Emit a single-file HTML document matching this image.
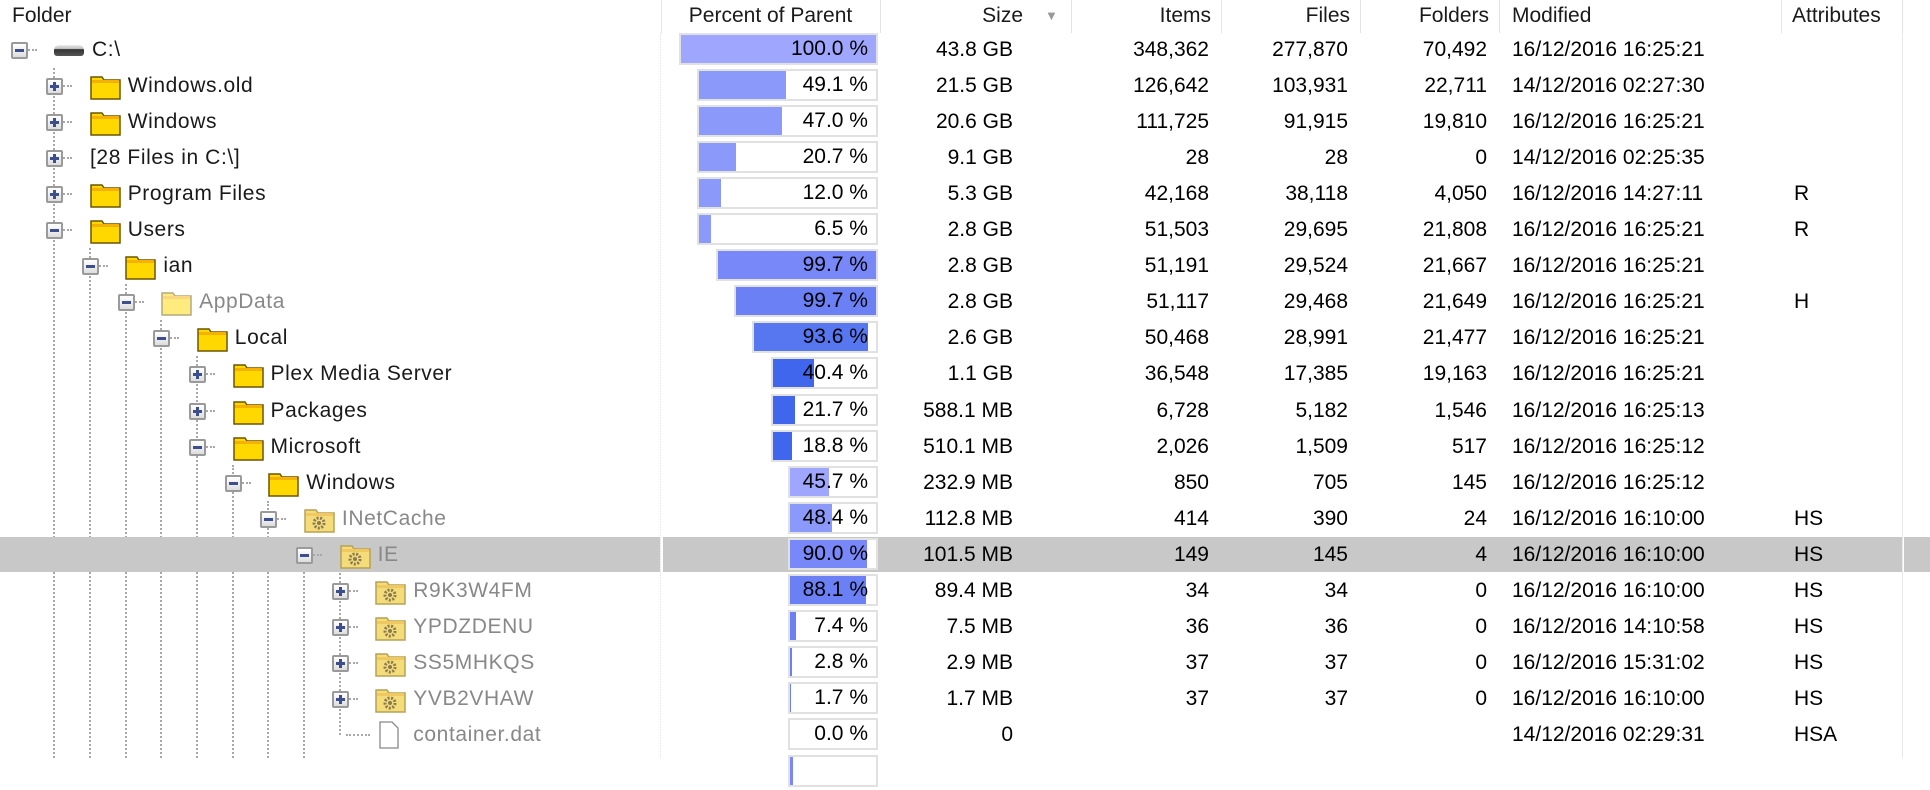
<!DOCTYPE html>
<html><head><meta charset="utf-8">
<style>
html,body{margin:0;padding:0;background:#fff;}
body{width:1930px;height:758px;overflow:hidden;position:relative;font-family:"Liberation Sans",sans-serif;font-size:21px;color:#000;}
.abs{position:absolute;}
.hdr{position:absolute;top:0;height:33px;line-height:32px;font-size:21px;color:#1a1a1a;}
.sep{position:absolute;top:0;width:1px;height:33px;background:#e3e3e3;}
.cell{position:absolute;height:36px;line-height:36px;white-space:nowrap;}
.vl{position:absolute;width:0;border-left:2px dotted #a8a8a8;}
.hl{position:absolute;height:0;border-top:2px dotted #a8a8a8;}
.exp{position:absolute;width:13px;height:13px;border:2px solid #9a9a9a;border-radius:2px;background:linear-gradient(#fff,#ddd);}
.exp i{position:absolute;left:2px;top:5px;width:9px;height:3px;background:#3b4f8c;}
.exp b{position:absolute;left:5px;top:2px;width:3px;height:9px;background:#3b4f8c;}
.box{position:absolute;height:28px;border:2px solid #e1e1e1;background:#fff;}
.fill{position:absolute;left:0;top:0;height:28px;}
.pt{position:absolute;right:8px;top:0;line-height:28px;}
</style></head>
<body>
<div id="hdr">
<div class="hdr" style="left:12px">Folder</div>
<div class="sep" style="left:661px"></div>
<div class="hdr" style="left:661px;width:219px;text-align:center">Percent of Parent</div>
<div class="sep" style="left:880px"></div>
<div class="hdr" style="left:880px;width:143px;text-align:right">Size</div>
<div class="abs" style="left:1045px;top:8px;font-size:13px;color:#999">▼</div>
<div class="sep" style="left:1071px"></div>
<div class="hdr" style="left:1071px;width:140px;text-align:right">Items</div>
<div class="sep" style="left:1221px"></div>
<div class="hdr" style="left:1221px;width:129px;text-align:right">Files</div>
<div class="sep" style="left:1360px"></div>
<div class="hdr" style="left:1360px;width:129px;text-align:right">Folders</div>
<div class="sep" style="left:1499px"></div>
<div class="hdr" style="left:1512px">Modified</div>
<div class="sep" style="left:1781px"></div>
<div class="hdr" style="left:1792px">Attributes</div>
<div class="sep" style="left:1902px"></div>
</div>
<div id="body"></div>
<script>
const names=["C:\\","Windows.old","Windows","[28 Files in C:\\]","Program Files","Users","ian","AppData","Local","Plex Media Server","Packages","Microsoft","Windows","INetCache","IE","R9K3W4FM","YPDZDENU","SS5MHKQS","YVB2VHAW","container.dat",""];
const depths=[0,1,1,1,1,1,2,3,4,5,5,5,6,7,8,9,9,9,9,9,8];
const percents=[100.0,49.1,47.0,20.7,12.0,6.5,99.7,99.7,93.6,40.4,21.7,18.8,45.7,48.4,90.0,88.1,7.4,2.8,1.7,0.0,3.0];
const sizes=["43.8 GB","21.5 GB","20.6 GB","9.1 GB","5.3 GB","2.8 GB","2.8 GB","2.8 GB","2.6 GB","1.1 GB","588.1 MB","510.1 MB","232.9 MB","112.8 MB","101.5 MB","89.4 MB","7.5 MB","2.9 MB","1.7 MB","0",""];
const items=["348,362","126,642","111,725","28","42,168","51,503","51,191","51,117","50,468","36,548","6,728","2,026","850","414","149","34","36","37","37","",""];
const files=["277,870","103,931","91,915","28","38,118","29,695","29,524","29,468","28,991","17,385","5,182","1,509","705","390","145","34","36","37","37","",""];
const folders=["70,492","22,711","19,810","0","4,050","21,808","21,667","21,649","21,477","19,163","1,546","517","145","24","4","0","0","0","0","",""];
const modified=["16/12/2016 16:25:21","14/12/2016 02:27:30","16/12/2016 16:25:21","14/12/2016 02:25:35","16/12/2016 14:27:11","16/12/2016 16:25:21","16/12/2016 16:25:21","16/12/2016 16:25:21","16/12/2016 16:25:21","16/12/2016 16:25:21","16/12/2016 16:25:13","16/12/2016 16:25:12","16/12/2016 16:25:12","16/12/2016 16:10:00","16/12/2016 16:10:00","16/12/2016 16:10:00","16/12/2016 14:10:58","16/12/2016 15:31:02","16/12/2016 16:10:00","14/12/2016 02:29:31",""];
const attrs=["","","","","R","R","","H","","","","","","HS","HS","HS","HS","HS","HS","HSA",""];
const kinds=["drive","folder","folder","none","folder","folder","folder","hidden","folder","folder","folder","folder","folder","sys","sys","sys","sys","sys","sys","file","none"];
const expState=["-","+","+","+","+","-","-","-","-","+","+","-","-","-","-","+","+","+","+","",""];
const selectedRow=14;

const body=document.getElementById('body');
const ROW0=31.5, RH=36.1;
const xd=d=>18.5+35.7*d;
const rowTop=i=>ROW0+i*RH;
const colors=["#9ea6fe","#8b99fb","#7888f8","#6a80f4","#5677f0","#3f66ec"];
function add(parent,cls,style,html){const e=document.createElement('div');if(cls)e.className=cls;e.style.cssText=style;if(html!==undefined)e.innerHTML=html;parent.appendChild(e);return e;}

const parentRows=[0,5,6,7,8,11,12,13,14];
parentRows.forEach(r=>{
  const d=depths[r]+1;
  let end=758;
  if(r===14){end=rowTop(19)+18;}
  const l=add(body,'vl',`left:${xd(d)-1}px;top:${rowTop(r)+RH}px;height:${end-rowTop(r)-RH}px`);
  
  
});

names.forEach((n,i)=>{
  const top=rowTop(i), d=depths[i];
  const row=add(body,'abs',`left:0;top:${top}px;width:1930px;height:${RH}px`);
  
  
  if(i===selectedRow){
    add(row,'abs','left:0;top:0;width:1930px;height:35px;background:#c8c8c8');
    add(row,'abs','left:660px;top:0;width:3px;height:35px;background:#fff');
    add(row,'abs','left:1902px;top:0;width:2px;height:35px;background:#fff');
  }
  const cy=18;
  const gray=(kinds[i]==='hidden'||kinds[i]==='sys'||kinds[i]==='file');
  if(n!==''){
    const hl=add(row,'hl',`left:${xd(d)+6}px;top:${cy-1}px;width:${kinds[i]==='file'?24:12}px`);
    
    
  }
  if(expState[i]){
    const ex=add(row,'exp',`left:${xd(d)-8}px;top:${cy-8}px`,expState[i]==='+'?'<i></i><b></b>':'<i></i>');
    
    
  }
  const ix=54+35.7*d;
  let icon=null;
  if(kinds[i]==='drive'){
    icon=add(row,'abs',`left:${ix}px;top:${cy-5}px;width:30px;height:11px;border-radius:5px 5px 3px 3px;background:linear-gradient(#eee 0,#bbb 35%,#333 40%,#555 100%)`);
  }else if(kinds[i]==='folder'||kinds[i]==='hidden'||kinds[i]==='sys'){
    icon=add(row,'abs',`left:${ix}px;top:${cy-12}px;width:31px;height:26px;opacity:${kinds[i]==='hidden'?0.5:1}`,
      `<svg width="31" height="26"><path d="M1 3h11l2 3h16v19H1z" fill="${kinds[i]==='sys'?'#f5dc7a':'#ffd800'}" stroke="${kinds[i]==='sys'?'#b5a253':'#6b5600'}" stroke-width="1.5"/><rect x="2" y="6" width="27" height="3" fill="${kinds[i]==='sys'?'#f0c860':'#f6b000'}"/>`+
      (kinds[i]==='sys'?'<circle cx="15" cy="16" r="5" fill="none" stroke="#8a7a50" stroke-width="3" stroke-dasharray="2 1.5"/><circle cx="15" cy="16" r="2" fill="#8a7a50"/>':'')+`</svg>`);
  }else if(kinds[i]==='file'){
    icon=add(row,'abs',`left:${ix+4}px;top:${cy-14}px;width:20px;height:26px`,
      '<svg width="20" height="28"><path d="M1 1h12l6 6v20H1z" fill="#fff" stroke="#888" stroke-width="1.3"/></svg>');
  }
  if(icon){}
  const tx=kinds[i]==='none'?90:92+35.7*d;
  if(n!==''){
    const t=add(row,'cell',`left:${tx}px;top:0;color:${gray?'#888':'#1a1a1a'};letter-spacing:0.6px`);
    t.textContent=n;
    
    
  }
  const bx=Math.min(679+18.3*d,788);
  const bw=878-bx;
  const box=add(row,'box',`left:${bx}px;top:1px;width:${bw-4}px`);
  
  
  const f=add(box,'fill',`width:${(bw-4)*percents[i]/100}px;background:${colors[d%6]}`);
  
  
  if(n!==''){
    const pt=add(box,'pt','');
    pt.textContent=percents[i].toFixed(1)+' %';
    
    
  }
  const cols=[[sizes,880,1013,'size'],[items,1071,1209,'items'],[files,1221,1348,'files'],[folders,1360,1487,'folders']];
  cols.forEach(([arr,l,r,nm])=>{
    const c=add(row,'cell',`left:${l}px;width:${r-l}px;text-align:right`);
    c.textContent=arr[i];
    
    
  });
  const m=add(row,'cell','left:1512px');
  m.textContent=modified[i];
  
  
  const a=add(row,'cell','left:1794px');
  a.textContent=attrs[i];
  
  
});
const fs=add(body,'vl',`left:660px;top:33px;height:725px;border-left:1px dotted #e0e0e0`);


const rs=add(body,'abs',`left:1902px;top:33px;width:1px;height:725px;background:#e8e8e8`);


</script>
</body></html>
